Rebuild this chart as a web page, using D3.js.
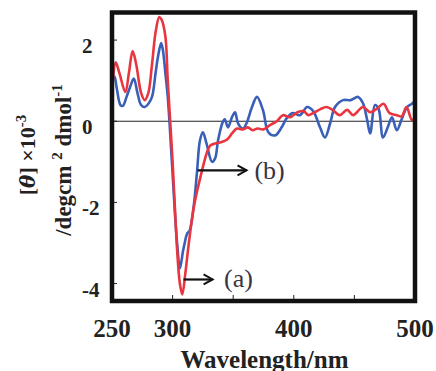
<!DOCTYPE html>
<html>
<head>
<meta charset="utf-8">
<script src="https://cdn.jsdelivr.net/npm/d3@7"></script>
<style>
  body { margin: 0; background: #fff; }
  svg text { font-family: "Liberation Serif", "Times New Roman", serif; }
</style>
</head>
<body>
<div id="chart"></div>
<script>
// CD spectra, [theta] x 10^-3 vs wavelength (nm)
const redWave = [250, 253, 256, 261, 264, 267, 270, 274, 277, 280, 283, 286, 289, 291, 294, 296, 298, 300, 302, 304, 306, 308, 310.5, 313, 317, 320, 323, 328, 331, 335, 340, 345, 349, 353, 358, 362, 366, 370, 375, 380, 386, 391, 397, 403, 408, 412, 416, 422, 427, 432, 438, 444, 449, 457, 463, 469, 474, 479, 485, 489, 493, 497.5, 500];
const redVals = [0.7, 1.45, 1.2, 0.72, 1.2, 1.73, 1.4, 0.7, 0.52, 0.7, 1.4, 2.2, 2.57, 2.5, 2.1, 1.0, 0, -1.0, -2.2, -3.3, -4.0, -4.27, -3.75, -3.1, -2.2, -1.75, -1.37, -0.8, -0.6, -0.55, -0.52, -0.45, -0.3, -0.18, -0.2, -0.15, -0.22, -0.18, -0.2, -0.1, 0, 0.15, 0.1, 0.22, 0.25, 0.15, 0.2, 0.3, 0.35, 0.28, 0.15, 0.28, 0.15, 0.35, 0.22, 0.32, 0.43, 0.2, 0.15, 0.12, 0.35, 0.03, 0.1];

const blueWave = [250, 252, 254, 257, 259, 262, 265, 268, 271, 274, 277, 280, 283, 286, 288, 290.5, 292, 294, 296, 298, 300, 302, 304, 306, 308.6, 310, 312, 314, 317, 320, 322.6, 325, 328, 332.5, 335, 337.5, 341, 343, 345.7, 349, 351.5, 354, 358, 361, 365.5, 369.6, 374.6, 379, 384.5, 390, 394, 399, 405, 411, 416, 421.6, 425.7, 430, 434, 440.6, 447, 453, 457, 460.4, 463, 467, 470, 473.6, 477.5, 481, 485, 489, 493.4, 497.5, 500];
const blueVals = [1.0, 1.1, 0.8, 0.4, 0.38, 0.6, 0.85, 1.05, 0.7, 0.4, 0.35, 0.43, 0.6, 1.2, 1.6, 1.93, 1.75, 1.2, 0.6, -0.3, -1.3, -2.3, -3.1, -3.63, -3.2, -3.0, -2.77, -2.7, -2.2, -1.3, -0.47, -0.27, -0.55, -1.0, -0.92, -0.47, -0.05, 0.05, -0.15, 0.1, 0.22, -0.05, -0.18, -0.05, 0.35, 0.6, 0.27, -0.27, -0.35, -0.15, 0.07, 0.2, 0.15, 0.35, 0.25, -0.15, -0.4, -0.05, 0.35, 0.52, 0.52, 0.6, 0.45, 0.05, -0.3, 0.4, 0.3, -0.4, -0.15, 0.1, -0.22, 0.05, 0.35, 0.43, 0.5];

const xTicks = [250, 300, 400, 500];
const xMinor = [300, 350, 400, 450];
const yTicks = [2, 0, -2, -4];

const W = 436, H = 371;
const serif = 'Liberation Serif';
const svg = d3.select('#chart').append('svg')
  .attr('width', W)
  .attr('height', H);

const x = d3.scaleLinear().domain([250, 500]).range([112, 415]);
const y = d3.scaleLinear().domain([-4.43, 2.68]).range([301, 12.5]);

svg.append('clipPath').attr('id', 'clip')
  .append('rect')
  .attr('x', x(250)).attr('y', y(2.68))
  .attr('width', x(500) - x(250)).attr('height', y(-4.43) - y(2.68));

// zero line
svg.append('line')
  .attr('x1', x(250)).attr('x2', x(500))
  .attr('y1', y(0)).attr('y2', y(0))
  .attr('stroke', '#222').attr('stroke-width', 1);

const line = d3.line()
  .x(d => x(d[0]))
  .y(d => y(d[1]))
  .curve(d3.curveCatmullRom.alpha(0.5));

const plot = svg.append('g').attr('clip-path', 'url(#clip)');
plot.append('path')
  .datum(d3.zip(blueWave, blueVals))
  .attr('d', line)
  .attr('fill', 'none')
  .attr('stroke', '#3a5fb8')
  .attr('stroke-width', 2.6);
plot.append('path')
  .datum(d3.zip(redWave, redVals))
  .attr('d', line)
  .attr('fill', 'none')
  .attr('stroke', '#e8353f')
  .attr('stroke-width', 2.6);

// ticks (inside)
svg.append('g').selectAll('line')
  .data(xMinor).enter().append('line')
  .attr('x1', d => x(d)).attr('x2', d => x(d))
  .attr('y1', y(-4.43)).attr('y2', y(-4.43) - 6)
  .attr('stroke', '#222').attr('stroke-width', 1);
svg.append('g').selectAll('line')
  .data(yTicks).enter().append('line')
  .attr('x1', x(250)).attr('x2', x(250) + 5)
  .attr('y1', d => y(d)).attr('y2', d => y(d))
  .attr('stroke', '#222').attr('stroke-width', 1);

// frame
svg.append('rect')
  .attr('x', x(250)).attr('y', y(2.68))
  .attr('width', x(500) - x(250)).attr('height', y(-4.43) - y(2.68))
  .attr('fill', 'none')
  .attr('stroke', '#111')
  .attr('stroke-width', 4.5);

// tick labels
svg.append('g').selectAll('text')
  .data(xTicks).enter().append('text')
  .attr('x', d => x(d)).attr('y', 337)
  .attr('text-anchor', 'middle')
  .attr('font-family', serif)
  .attr('font-size', 25).attr('font-weight', 'bold')
  .attr('fill', '#222')
  .text(d => d);
svg.append('g').selectAll('text')
  .data(yTicks).enter().append('text')
  .attr('x', 82).attr('y', d => y(d) + 13)
  .attr('font-family', serif)
  .attr('font-size', 21).attr('font-weight', 'bold')
  .attr('fill', '#222')
  .text(d => d);

// axis titles
svg.append('text')
  .attr('x', (x(250) + x(500)) / 2 + 1).attr('y', 368)
  .attr('text-anchor', 'middle')
  .attr('font-family', serif)
  .attr('font-size', 25).attr('font-weight', 'bold')
  .attr('fill', '#222')
  .text('Wavelength/nm');

const yl1 = svg.append('text')
  .attr('transform', 'translate(35,155) rotate(-90)')
  .attr('text-anchor', 'middle')
  .attr('font-family', serif)
  .attr('font-size', 22).attr('font-weight', 'bold')
  .attr('fill', '#222');
yl1.append('tspan').text('[');
yl1.append('tspan').attr('font-style', 'italic').attr('font-family', 'DejaVu Serif').attr('font-size', 20).text('θ');
yl1.append('tspan').text('] ×10');
yl1.append('tspan').attr('font-size', 15).attr('dy', -9).text('-3');

const yl2 = svg.append('text')
  .attr('transform', 'translate(71,160) rotate(-90)')
  .attr('text-anchor', 'middle')
  .attr('font-family', serif)
  .attr('font-size', 23).attr('font-weight', 'bold')
  .attr('fill', '#222');
yl2.append('tspan').text('/degcm ');
yl2.append('tspan').attr('font-size', 15).attr('dy', -9).text('2');
yl2.append('tspan').attr('dy', 9).text(' dmol');
yl2.append('tspan').attr('font-size', 15).attr('dy', -9).text('-1');

// annotations
function arrow(x1, x2, yy) {
  const g = svg.append('g').attr('stroke', '#111').attr('fill', 'none');
  g.append('line').attr('x1', x1).attr('x2', x2).attr('y1', yy).attr('y2', yy).attr('stroke-width', 2.2);
  g.append('path').attr('d', `M${x2 - 9},${yy - 5} L${x2},${yy} L${x2 - 9},${yy + 5}`).attr('stroke-width', 2);
}
arrow(x(320.5), x(361), y(-1.21));
svg.append('text').attr('x', x(367.5)).attr('y', y(-1.21) + 9)
  .attr('font-family', serif)
  .attr('font-size', 26).attr('fill', '#3a3342').text('(b)');
arrow(x(309), x(333), y(-3.9));
svg.append('text').attr('x', x(342.5)).attr('y', y(-3.9) + 8)
  .attr('font-family', serif)
  .attr('font-size', 26).attr('fill', '#3a3342').text('(a)');
</script>
</body>
</html>
